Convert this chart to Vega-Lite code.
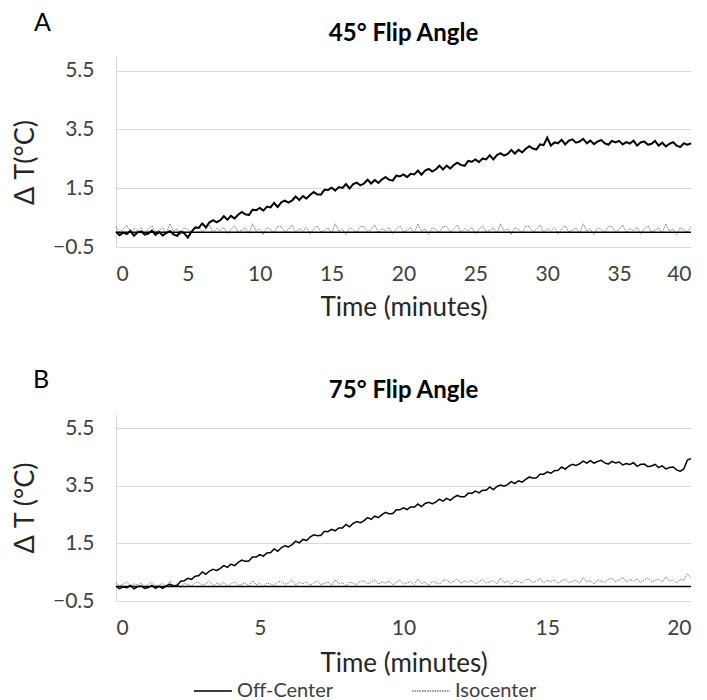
{
"$schema": "https://vega.github.io/schema/vega-lite/v6.json",
"padding": {"left": 11, "top": 10, "right": 5, "bottom": 5},
"background": "white",
"config": {
  "font": "Lato",
  "view": {"stroke": null},
  "axis": {"labelFont": "Lato", "labelFontSize": 21, "labelColor": "#404040", "titleFont": "Lato", "titleFontSize": 26, "titleFontWeight": "normal", "titleColor": "#262626", "ticks": false, "gridColor": "#d9d9d9", "gridWidth": 1},
  "title": {"font": "Lato", "fontSize": 24, "fontWeight": "bold", "color": "#000000", "anchor": "middle"}
},
"datasets": {
"a": [
{"t":0,"Off-Center":0.02,"Isocenter":0.19},{"t":0.25,"Off-Center":-0.10,"Isocenter":0.02},{"t":0.5,"Off-Center":-0.01,"Isocenter":0.10},{"t":0.75,"Off-Center":-0.06,"Isocenter":0.25},{"t":1,"Off-Center":0.05,"Isocenter":-0.01},{"t":1.25,"Off-Center":-0.12,"Isocenter":0.13},{"t":1.5,"Off-Center":0.00,"Isocenter":0.05},{"t":1.75,"Off-Center":0.03,"Isocenter":0.17},{"t":2,"Off-Center":-0.08,"Isocenter":-0.05},{"t":2.25,"Off-Center":-0.04,"Isocenter":0.11},{"t":2.5,"Off-Center":0.06,"Isocenter":0.22},{"t":2.75,"Off-Center":-0.09,"Isocenter":0.01},{"t":3,"Off-Center":0.01,"Isocenter":0.07},{"t":3.25,"Off-Center":-0.11,"Isocenter":0.15},{"t":3.5,"Off-Center":-0.02,"Isocenter":-0.03},{"t":3.75,"Off-Center":0.04,"Isocenter":0.29},{"t":4,"Off-Center":-0.07,"Isocenter":0.04},{"t":4.25,"Off-Center":-0.12,"Isocenter":0.12},{"t":4.5,"Off-Center":0.02,"Isocenter":-0.08},{"t":4.75,"Off-Center":-0.03,"Isocenter":0.16},
{"t":5,"Off-Center":-0.18,"Isocenter":0.09},{"t":5.25,"Off-Center":0.02,"Isocenter":0.0},{"t":5.5,"Off-Center":0.16,"Isocenter":0.20},{"t":5.75,"Off-Center":0.15,"Isocenter":0.19},{"t":6,"Off-Center":0.30,"Isocenter":0.02},{"t":6.25,"Off-Center":0.17,"Isocenter":0.10},{"t":6.5,"Off-Center":0.34,"Isocenter":0.25},{"t":6.75,"Off-Center":0.41,"Isocenter":-0.01},{"t":7,"Off-Center":0.34,"Isocenter":0.13},{"t":7.25,"Off-Center":0.41,"Isocenter":0.05},{"t":7.5,"Off-Center":0.55,"Isocenter":0.17},{"t":7.75,"Off-Center":0.43,"Isocenter":-0.05},{"t":8,"Off-Center":0.56,"Isocenter":0.11},{"t":8.25,"Off-Center":0.47,"Isocenter":0.22},{"t":8.5,"Off-Center":0.60,"Isocenter":0.01},{"t":8.75,"Off-Center":0.69,"Isocenter":0.07},{"t":9,"Off-Center":0.61,"Isocenter":0.15},{"t":9.25,"Off-Center":0.59,"Isocenter":-0.03},{"t":9.5,"Off-Center":0.77,"Isocenter":0.29},{"t":9.75,"Off-Center":0.75,"Isocenter":0.04},
{"t":10,"Off-Center":0.83,"Isocenter":0.12},{"t":10.25,"Off-Center":0.74,"Isocenter":-0.08},{"t":10.5,"Off-Center":0.87,"Isocenter":0.16},{"t":10.75,"Off-Center":0.85,"Isocenter":0.09},{"t":11,"Off-Center":1.00,"Isocenter":0.0},{"t":11.25,"Off-Center":0.86,"Isocenter":0.20},{"t":11.5,"Off-Center":1.02,"Isocenter":0.19},{"t":11.75,"Off-Center":1.08,"Isocenter":0.02},{"t":12,"Off-Center":1.01,"Isocenter":0.10},{"t":12.25,"Off-Center":1.08,"Isocenter":0.25},{"t":12.5,"Off-Center":1.22,"Isocenter":-0.01},{"t":12.75,"Off-Center":1.10,"Isocenter":0.13},{"t":13,"Off-Center":1.23,"Isocenter":0.05},{"t":13.25,"Off-Center":1.15,"Isocenter":0.17},{"t":13.5,"Off-Center":1.27,"Isocenter":-0.05},{"t":13.75,"Off-Center":1.37,"Isocenter":0.11},{"t":14,"Off-Center":1.29,"Isocenter":0.22},{"t":14.25,"Off-Center":1.28,"Isocenter":0.01},{"t":14.5,"Off-Center":1.45,"Isocenter":0.07},{"t":14.75,"Off-Center":1.44,"Isocenter":0.15},
{"t":15,"Off-Center":1.52,"Isocenter":-0.03},{"t":15.25,"Off-Center":1.42,"Isocenter":0.29},{"t":15.5,"Off-Center":1.54,"Isocenter":0.04},{"t":15.75,"Off-Center":1.51,"Isocenter":0.12},{"t":16,"Off-Center":1.64,"Isocenter":-0.08},{"t":16.25,"Off-Center":1.49,"Isocenter":0.16},{"t":16.5,"Off-Center":1.64,"Isocenter":0.09},{"t":16.75,"Off-Center":1.69,"Isocenter":0.0},{"t":17,"Off-Center":1.60,"Isocenter":0.20},{"t":17.25,"Off-Center":1.66,"Isocenter":0.19},{"t":17.5,"Off-Center":1.79,"Isocenter":0.02},{"t":17.75,"Off-Center":1.66,"Isocenter":0.10},{"t":18,"Off-Center":1.78,"Isocenter":0.25},{"t":18.25,"Off-Center":1.68,"Isocenter":-0.01},{"t":18.5,"Off-Center":1.80,"Isocenter":0.13},{"t":18.75,"Off-Center":1.88,"Isocenter":0.05},{"t":19,"Off-Center":1.79,"Isocenter":0.17},{"t":19.25,"Off-Center":1.76,"Isocenter":-0.05},{"t":19.5,"Off-Center":1.93,"Isocenter":0.11},{"t":19.75,"Off-Center":1.90,"Isocenter":0.22},
{"t":20,"Off-Center":1.97,"Isocenter":0.01},{"t":20.25,"Off-Center":1.88,"Isocenter":0.07},{"t":20.5,"Off-Center":1.99,"Isocenter":0.15},{"t":20.75,"Off-Center":1.97,"Isocenter":-0.03},{"t":21,"Off-Center":2.10,"Isocenter":0.29},{"t":21.25,"Off-Center":1.96,"Isocenter":0.04},{"t":21.5,"Off-Center":2.10,"Isocenter":0.12},{"t":21.75,"Off-Center":2.16,"Isocenter":-0.08},{"t":22,"Off-Center":2.07,"Isocenter":0.16},{"t":22.25,"Off-Center":2.14,"Isocenter":0.09},{"t":22.5,"Off-Center":2.27,"Isocenter":0.0},{"t":22.75,"Off-Center":2.14,"Isocenter":0.20},{"t":23,"Off-Center":2.27,"Isocenter":0.19},{"t":23.25,"Off-Center":2.17,"Isocenter":0.02},{"t":23.5,"Off-Center":2.29,"Isocenter":0.10},{"t":23.75,"Off-Center":2.37,"Isocenter":0.25},{"t":24,"Off-Center":2.29,"Isocenter":-0.01},{"t":24.25,"Off-Center":2.26,"Isocenter":0.13},{"t":24.5,"Off-Center":2.43,"Isocenter":0.05},{"t":24.75,"Off-Center":2.40,"Isocenter":0.17},
{"t":25,"Off-Center":2.48,"Isocenter":-0.05},{"t":25.25,"Off-Center":2.39,"Isocenter":0.11},{"t":25.5,"Off-Center":2.51,"Isocenter":0.22},{"t":25.75,"Off-Center":2.48,"Isocenter":0.01},{"t":26,"Off-Center":2.62,"Isocenter":0.07},{"t":26.25,"Off-Center":2.48,"Isocenter":0.15},{"t":26.5,"Off-Center":2.63,"Isocenter":-0.03},{"t":26.75,"Off-Center":2.69,"Isocenter":0.29},{"t":27,"Off-Center":2.61,"Isocenter":0.04},{"t":27.25,"Off-Center":2.67,"Isocenter":0.12},{"t":27.5,"Off-Center":2.80,"Isocenter":-0.08},{"t":27.75,"Off-Center":2.68,"Isocenter":0.16},{"t":28,"Off-Center":2.81,"Isocenter":0.09},{"t":28.25,"Off-Center":2.72,"Isocenter":0.0},{"t":28.5,"Off-Center":2.84,"Isocenter":0.20},{"t":28.75,"Off-Center":2.93,"Isocenter":0.19},{"t":29,"Off-Center":2.85,"Isocenter":0.02},{"t":29.25,"Off-Center":2.82,"Isocenter":0.10},{"t":29.5,"Off-Center":2.99,"Isocenter":0.25},{"t":29.75,"Off-Center":2.97,"Isocenter":-0.01},
{"t":30,"Off-Center":3.22,"Isocenter":0.13},{"t":30.25,"Off-Center":2.95,"Isocenter":0.05},{"t":30.5,"Off-Center":3.06,"Isocenter":0.17},{"t":30.75,"Off-Center":3.03,"Isocenter":-0.05},{"t":31,"Off-Center":3.15,"Isocenter":0.11},{"t":31.25,"Off-Center":2.99,"Isocenter":0.22},{"t":31.5,"Off-Center":3.12,"Isocenter":0.01},{"t":31.75,"Off-Center":3.16,"Isocenter":0.07},{"t":32,"Off-Center":3.05,"Isocenter":0.15},{"t":32.25,"Off-Center":3.09,"Isocenter":-0.03},{"t":32.5,"Off-Center":3.18,"Isocenter":0.29},{"t":32.75,"Off-Center":3.03,"Isocenter":0.04},{"t":33,"Off-Center":3.12,"Isocenter":0.12},{"t":33.25,"Off-Center":3.00,"Isocenter":-0.08},{"t":33.5,"Off-Center":3.09,"Isocenter":0.16},{"t":33.75,"Off-Center":3.14,"Isocenter":0.09},{"t":34,"Off-Center":3.03,"Isocenter":0.0},{"t":34.25,"Off-Center":2.98,"Isocenter":0.20},{"t":34.5,"Off-Center":3.11,"Isocenter":0.19},{"t":34.75,"Off-Center":3.06,"Isocenter":0.02},
{"t":35,"Off-Center":3.11,"Isocenter":0.10},{"t":35.25,"Off-Center":2.99,"Isocenter":0.25},{"t":35.5,"Off-Center":3.07,"Isocenter":-0.01},{"t":35.75,"Off-Center":3.02,"Isocenter":0.13},{"t":36,"Off-Center":3.12,"Isocenter":0.05},{"t":36.25,"Off-Center":2.95,"Isocenter":0.17},{"t":36.5,"Off-Center":3.06,"Isocenter":-0.05},{"t":36.75,"Off-Center":3.09,"Isocenter":0.11},{"t":37,"Off-Center":2.98,"Isocenter":0.22},{"t":37.25,"Off-Center":3.01,"Isocenter":0.01},{"t":37.5,"Off-Center":3.11,"Isocenter":0.07},{"t":37.75,"Off-Center":2.95,"Isocenter":0.15},{"t":38,"Off-Center":3.05,"Isocenter":-0.03},{"t":38.25,"Off-Center":2.92,"Isocenter":0.29},{"t":38.5,"Off-Center":3.01,"Isocenter":0.04},{"t":38.75,"Off-Center":3.07,"Isocenter":0.12},{"t":39,"Off-Center":2.95,"Isocenter":-0.08},{"t":39.25,"Off-Center":2.90,"Isocenter":0.16},{"t":39.5,"Off-Center":3.03,"Isocenter":0.09},{"t":39.75,"Off-Center":2.98,"Isocenter":0.0},{"t":40,"Off-Center":3.03,"Isocenter":0.20}
],
"b": [
{"t":0,"Off-Center":0.02,"Isocenter":0.13},{"t":0.125,"Off-Center":-0.07,"Isocenter":0.03},{"t":0.25,"Off-Center":-0.01,"Isocenter":0.08},{"t":0.375,"Off-Center":-0.04,"Isocenter":0.17},{"t":0.5,"Off-Center":0.04,"Isocenter":0.01},{"t":0.625,"Off-Center":-0.08,"Isocenter":0.10},{"t":0.75,"Off-Center":0.00,"Isocenter":0.05},{"t":0.875,"Off-Center":0.02,"Isocenter":0.12},{"t":1,"Off-Center":-0.06,"Isocenter":-0.01},{"t":1.125,"Off-Center":-0.03,"Isocenter":0.08},{"t":1.25,"Off-Center":0.04,"Isocenter":0.15},{"t":1.375,"Off-Center":-0.06,"Isocenter":0.02},{"t":1.5,"Off-Center":0.01,"Isocenter":0.06},{"t":1.625,"Off-Center":-0.06,"Isocenter":0.11},{"t":1.75,"Off-Center":0.03,"Isocenter":0.0},{"t":1.875,"Off-Center":0.08,"Isocenter":0.19},{"t":2,"Off-Center":0.02,"Isocenter":0.04},{"t":2.125,"Off-Center":0.04,"Isocenter":0.09},{"t":2.25,"Off-Center":0.19,"Isocenter":-0.03},{"t":2.375,"Off-Center":0.20,"Isocenter":0.11},
{"t":2.5,"Off-Center":0.29,"Isocenter":0.07},{"t":2.625,"Off-Center":0.25,"Isocenter":0.02},{"t":2.75,"Off-Center":0.36,"Isocenter":0.14},{"t":2.875,"Off-Center":0.38,"Isocenter":0.15},{"t":3,"Off-Center":0.51,"Isocenter":0.05},{"t":3.125,"Off-Center":0.43,"Isocenter":0.10},{"t":3.25,"Off-Center":0.54,"Isocenter":0.19},{"t":3.375,"Off-Center":0.60,"Isocenter":0.03},{"t":3.5,"Off-Center":0.56,"Isocenter":0.12},{"t":3.625,"Off-Center":0.63,"Isocenter":0.07},{"t":3.75,"Off-Center":0.73,"Isocenter":0.14},{"t":3.875,"Off-Center":0.67,"Isocenter":0.01},{"t":4,"Off-Center":0.78,"Isocenter":0.10},{"t":4.125,"Off-Center":0.73,"Isocenter":0.17},{"t":4.25,"Off-Center":0.84,"Isocenter":0.04},{"t":4.375,"Off-Center":0.92,"Isocenter":0.08},{"t":4.5,"Off-Center":0.88,"Isocenter":0.13},{"t":4.625,"Off-Center":0.89,"Isocenter":0.02},{"t":4.75,"Off-Center":1.03,"Isocenter":0.21},{"t":4.875,"Off-Center":1.03,"Isocenter":0.06},
{"t":5,"Off-Center":1.11,"Isocenter":0.11},{"t":5.125,"Off-Center":1.06,"Isocenter":-0.01},{"t":5.25,"Off-Center":1.17,"Isocenter":0.13},{"t":5.375,"Off-Center":1.18,"Isocenter":0.09},{"t":5.5,"Off-Center":1.31,"Isocenter":0.04},{"t":5.625,"Off-Center":1.23,"Isocenter":0.16},{"t":5.75,"Off-Center":1.35,"Isocenter":0.18},{"t":5.875,"Off-Center":1.42,"Isocenter":0.08},{"t":6,"Off-Center":1.38,"Isocenter":0.13},{"t":6.125,"Off-Center":1.46,"Isocenter":0.22},{"t":6.25,"Off-Center":1.58,"Isocenter":0.06},{"t":6.375,"Off-Center":1.52,"Isocenter":0.15},{"t":6.5,"Off-Center":1.64,"Isocenter":0.10},{"t":6.625,"Off-Center":1.60,"Isocenter":0.17},{"t":6.75,"Off-Center":1.72,"Isocenter":0.04},{"t":6.875,"Off-Center":1.80,"Isocenter":0.13},{"t":7,"Off-Center":1.77,"Isocenter":0.20},{"t":7.125,"Off-Center":1.78,"Isocenter":0.07},{"t":7.25,"Off-Center":1.92,"Isocenter":0.11},{"t":7.375,"Off-Center":1.91,"Isocenter":0.16},
{"t":7.5,"Off-Center":1.99,"Isocenter":0.05},{"t":7.625,"Off-Center":1.94,"Isocenter":0.24},{"t":7.75,"Off-Center":2.04,"Isocenter":0.09},{"t":7.875,"Off-Center":2.04,"Isocenter":0.14},{"t":8,"Off-Center":2.16,"Isocenter":0.02},{"t":8.125,"Off-Center":2.08,"Isocenter":0.16},{"t":8.25,"Off-Center":2.20,"Isocenter":0.12},{"t":8.375,"Off-Center":2.26,"Isocenter":0.07},{"t":8.5,"Off-Center":2.22,"Isocenter":0.19},{"t":8.625,"Off-Center":2.29,"Isocenter":0.20},{"t":8.75,"Off-Center":2.40,"Isocenter":0.10},{"t":8.875,"Off-Center":2.34,"Isocenter":0.15},{"t":9,"Off-Center":2.45,"Isocenter":0.24},{"t":9.125,"Off-Center":2.40,"Isocenter":0.08},{"t":9.25,"Off-Center":2.50,"Isocenter":0.17},{"t":9.375,"Off-Center":2.58,"Isocenter":0.12},{"t":9.5,"Off-Center":2.53,"Isocenter":0.19},{"t":9.625,"Off-Center":2.54,"Isocenter":0.06},{"t":9.75,"Off-Center":2.67,"Isocenter":0.15},{"t":9.875,"Off-Center":2.67,"Isocenter":0.22},
{"t":10,"Off-Center":2.74,"Isocenter":0.09},{"t":10.125,"Off-Center":2.68,"Isocenter":0.13},{"t":10.25,"Off-Center":2.77,"Isocenter":0.18},{"t":10.375,"Off-Center":2.76,"Isocenter":0.07},{"t":10.5,"Off-Center":2.87,"Isocenter":0.26},{"t":10.625,"Off-Center":2.78,"Isocenter":0.11},{"t":10.75,"Off-Center":2.89,"Isocenter":0.16},{"t":10.875,"Off-Center":2.93,"Isocenter":0.04},{"t":11,"Off-Center":2.88,"Isocenter":0.18},{"t":11.125,"Off-Center":2.94,"Isocenter":0.14},{"t":11.25,"Off-Center":3.04,"Isocenter":0.09},{"t":11.375,"Off-Center":2.97,"Isocenter":0.21},{"t":11.5,"Off-Center":3.07,"Isocenter":0.23},{"t":11.625,"Off-Center":3.00,"Isocenter":0.13},{"t":11.75,"Off-Center":3.10,"Isocenter":0.18},{"t":11.875,"Off-Center":3.17,"Isocenter":0.27},{"t":12,"Off-Center":3.12,"Isocenter":0.11},{"t":12.125,"Off-Center":3.12,"Isocenter":0.20},{"t":12.25,"Off-Center":3.25,"Isocenter":0.15},{"t":12.375,"Off-Center":3.24,"Isocenter":0.22},
{"t":12.5,"Off-Center":3.32,"Isocenter":0.09},{"t":12.625,"Off-Center":3.26,"Isocenter":0.18},{"t":12.75,"Off-Center":3.35,"Isocenter":0.25},{"t":12.875,"Off-Center":3.35,"Isocenter":0.12},{"t":13,"Off-Center":3.46,"Isocenter":0.16},{"t":13.125,"Off-Center":3.37,"Isocenter":0.21},{"t":13.25,"Off-Center":3.48,"Isocenter":0.10},{"t":13.375,"Off-Center":3.53,"Isocenter":0.29},{"t":13.5,"Off-Center":3.49,"Isocenter":0.14},{"t":13.625,"Off-Center":3.55,"Isocenter":0.19},{"t":13.75,"Off-Center":3.65,"Isocenter":0.07},{"t":13.875,"Off-Center":3.58,"Isocenter":0.21},{"t":14,"Off-Center":3.68,"Isocenter":0.17},{"t":14.125,"Off-Center":3.63,"Isocenter":0.12},{"t":14.25,"Off-Center":3.73,"Isocenter":0.24},{"t":14.375,"Off-Center":3.81,"Isocenter":0.25},{"t":14.5,"Off-Center":3.77,"Isocenter":0.15},{"t":14.625,"Off-Center":3.78,"Isocenter":0.20},{"t":14.75,"Off-Center":3.91,"Isocenter":0.29},{"t":14.875,"Off-Center":3.91,"Isocenter":0.13},
{"t":15,"Off-Center":3.99,"Isocenter":0.22},{"t":15.125,"Off-Center":3.94,"Isocenter":0.17},{"t":15.25,"Off-Center":4.03,"Isocenter":0.24},{"t":15.375,"Off-Center":4.04,"Isocenter":0.11},{"t":15.5,"Off-Center":4.16,"Isocenter":0.20},{"t":15.625,"Off-Center":4.08,"Isocenter":0.27},{"t":15.75,"Off-Center":4.19,"Isocenter":0.14},{"t":15.875,"Off-Center":4.25,"Isocenter":0.18},{"t":16,"Off-Center":4.21,"Isocenter":0.23},{"t":16.125,"Off-Center":4.27,"Isocenter":0.12},{"t":16.25,"Off-Center":4.36,"Isocenter":0.31},{"t":16.375,"Off-Center":4.29,"Isocenter":0.16},{"t":16.5,"Off-Center":4.38,"Isocenter":0.21},{"t":16.625,"Off-Center":4.29,"Isocenter":0.09},{"t":16.75,"Off-Center":4.35,"Isocenter":0.23},{"t":16.875,"Off-Center":4.39,"Isocenter":0.19},{"t":17,"Off-Center":4.30,"Isocenter":0.14},{"t":17.125,"Off-Center":4.26,"Isocenter":0.26},{"t":17.25,"Off-Center":4.35,"Isocenter":0.28},{"t":17.375,"Off-Center":4.30,"Isocenter":0.18},
{"t":17.5,"Off-Center":4.33,"Isocenter":0.23},{"t":17.625,"Off-Center":4.23,"Isocenter":0.32},{"t":17.75,"Off-Center":4.28,"Isocenter":0.16},{"t":17.875,"Off-Center":4.24,"Isocenter":0.25},{"t":18,"Off-Center":4.31,"Isocenter":0.20},{"t":18.125,"Off-Center":4.18,"Isocenter":0.27},{"t":18.25,"Off-Center":4.25,"Isocenter":0.14},{"t":18.375,"Off-Center":4.26,"Isocenter":0.23},{"t":18.5,"Off-Center":4.17,"Isocenter":0.30},{"t":18.625,"Off-Center":4.19,"Isocenter":0.17},{"t":18.75,"Off-Center":4.25,"Isocenter":0.21},{"t":18.875,"Off-Center":4.14,"Isocenter":0.26},{"t":19,"Off-Center":4.20,"Isocenter":0.15},{"t":19.125,"Off-Center":4.09,"Isocenter":0.34},{"t":19.25,"Off-Center":4.14,"Isocenter":0.19},{"t":19.375,"Off-Center":4.16,"Isocenter":0.24},{"t":19.5,"Off-Center":4.06,"Isocenter":0.12},{"t":19.625,"Off-Center":4.01,"Isocenter":0.26},{"t":19.75,"Off-Center":4.09,"Isocenter":0.22},{"t":19.875,"Off-Center":4.40,"Isocenter":0.45},{"t":20,"Off-Center":4.45,"Isocenter":0.29}
]
},
"spacing": 48,
"vconcat": [
 {
  "width": 575, "height": 191,
  "title": {"text": "45° Flip Angle", "offset": -35},
  "layer": [
   {
    "data": {"name": "a"},
    "transform": [{"fold": ["Off-Center", "Isocenter"], "as": ["Series", "dT"]}, {"filter": "datum.Series == 'Isocenter'"}],
    "mark": {"type": "line", "strokeWidth": 1},
    "encoding": {
      "x": {"field": "t", "type": "quantitative", "scale": {"domain": [0, 40], "nice": false}, "axis": {"values": [0,5,10,15,20,25,30,35,40], "grid": false, "domain": false, "labelPadding": 16, "title": "Time (minutes)", "titlePadding": 10}},
      "y": {"field": "dT", "type": "quantitative", "scale": {"domain": [-0.5, 6], "nice": false, "zero": false}, "axis": {"values": [-0.5, 1.5, 3.5, 5.5], "format": ".1f", "grid": true, "domain": true, "domainColor": "#d9d9d9", "labelPadding": 22, "title": "Δ T(°C)", "titleFontSize": 27, "titlePadding": 13, "titleY": 106}},
      "color": {"field": "Series", "type": "nominal", "scale": {"domain": ["Off-Center", "Isocenter"], "range": ["#000000", "#7a7a7a"]},
        "legend": {"orient": "none", "legendX": 77, "legendY": 615, "direction": "horizontal", "title": null, "symbolType": "stroke", "symbolSize": 1444, "symbolStrokeWidth": 1.3, "labelFontSize": 20, "labelFont": "Lato", "labelColor": "#404040", "columnPadding": 75, "labelOffset": 4}},
      "strokeDash": {"field": "Series", "type": "nominal", "scale": {"domain": ["Off-Center", "Isocenter"], "range": [[1, 0], [1.5, 1]]}, "legend": {"title": null}}
    }
   },
   {
    "data": {"values": [{}]},
    "mark": {"type": "rule", "color": "#000000", "strokeWidth": 1.5},
    "encoding": {"y": {"datum": 0}}
   },
   {
    "data": {"name": "a"},
    "transform": [{"fold": ["Off-Center", "Isocenter"], "as": ["Series", "dT"]}, {"filter": "datum.Series == 'Off-Center'"}],
    "mark": {"type": "line", "strokeWidth": 2},
    "encoding": {
      "x": {"field": "t", "type": "quantitative"},
      "y": {"field": "dT", "type": "quantitative"},
      "color": {"field": "Series", "type": "nominal"},
      "strokeDash": {"field": "Series", "type": "nominal"}
    }
   },
   {
    "data": {"values": [{}]},
    "mark": {"type": "text", "text": "A", "fontSize": 25, "font": "Lato", "color": "#000000", "align": "center", "baseline": "middle"},
    "encoding": {"x": {"datum": -5.12}, "y": {"datum": 7.13}}
   }
  ]
 },
 {
  "width": 575, "height": 187,
  "title": {"text": "75° Flip Angle", "offset": -35},
  "layer": [
   {
    "data": {"name": "b"},
    "transform": [{"fold": ["Off-Center", "Isocenter"], "as": ["Series", "dT"]}, {"filter": "datum.Series == 'Isocenter'"}],
    "mark": {"type": "line", "strokeWidth": 1},
    "encoding": {
      "x": {"field": "t", "type": "quantitative", "scale": {"domain": [0, 20], "nice": false}, "axis": {"values": [0,5,10,15,20], "grid": false, "domain": false, "labelPadding": 16, "title": "Time (minutes)", "titlePadding": 12}},
      "y": {"field": "dT", "type": "quantitative", "scale": {"domain": [-0.5, 6], "nice": false, "zero": false}, "axis": {"values": [-0.5, 1.5, 3.5, 5.5], "format": ".1f", "grid": true, "domain": true, "domainColor": "#d9d9d9", "labelPadding": 22, "title": "Δ T (°C)", "titleFontSize": 27, "titlePadding": 13}},
      "color": {"field": "Series", "type": "nominal"},
      "strokeDash": {"field": "Series", "type": "nominal"}
    }
   },
   {
    "data": {"values": [{}]},
    "mark": {"type": "rule", "color": "#000000", "strokeWidth": 1.5},
    "encoding": {"y": {"datum": 0}}
   },
   {
    "data": {"name": "b"},
    "transform": [{"fold": ["Off-Center", "Isocenter"], "as": ["Series", "dT"]}, {"filter": "datum.Series == 'Off-Center'"}],
    "mark": {"type": "line", "strokeWidth": 1.5},
    "encoding": {
      "x": {"field": "t", "type": "quantitative"},
      "y": {"field": "dT", "type": "quantitative"},
      "color": {"field": "Series", "type": "nominal"},
      "strokeDash": {"field": "Series", "type": "nominal"}
    }
   },
   {
    "data": {"values": [{}]},
    "mark": {"type": "text", "text": "B", "fontSize": 25, "font": "Lato", "color": "#000000", "align": "center", "baseline": "middle"},
    "encoding": {"x": {"datum": -2.61}, "y": {"datum": 7.18}}
   }
  ]
 }
]
}
